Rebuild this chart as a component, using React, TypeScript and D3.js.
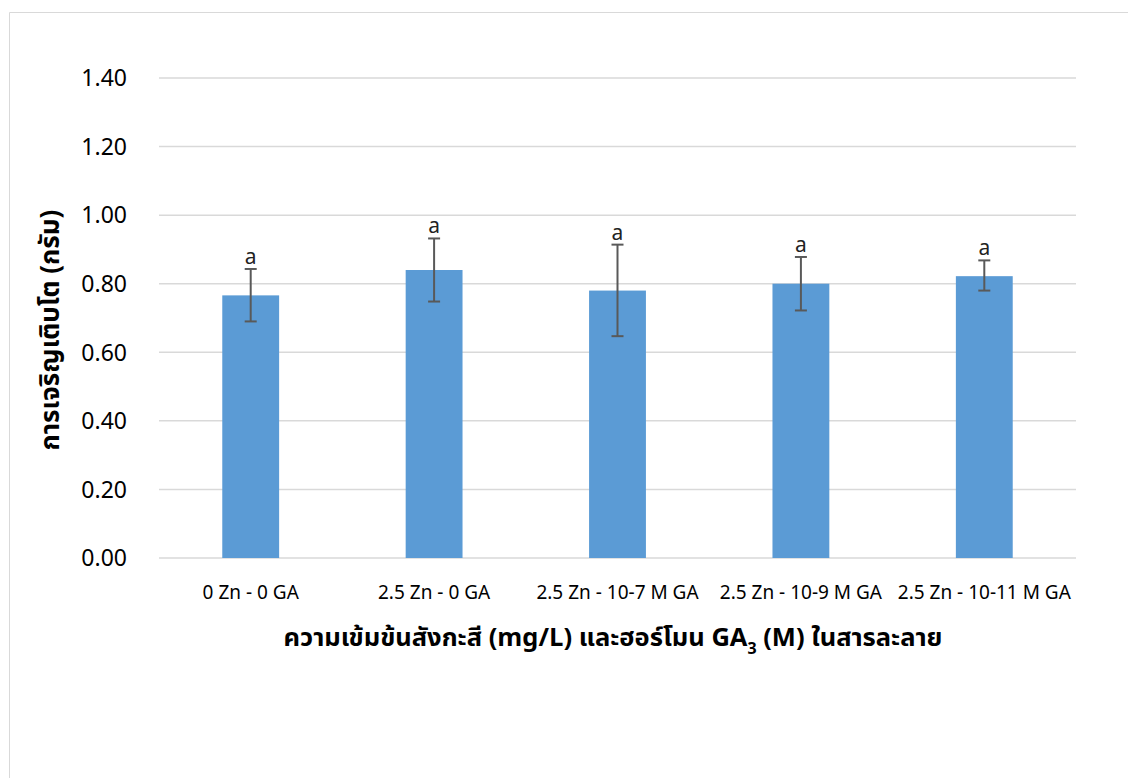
import React from "react";
import * as d3 from "d3";

const categories = ["0 Zn - 0 GA", "2.5 Zn - 0 GA", "2.5 Zn - 10-7 M GA", "2.5 Zn - 10-9 M GA", "2.5 Zn - 10-11 M GA"];
const means = [0.766, 0.840, 0.780, 0.800, 0.822];
const errLow = [0.690, 0.748, 0.647, 0.722, 0.780];
const errHigh = [0.843, 0.932, 0.914, 0.878, 0.868];
const letters = ["a", "a", "a", "a", "a"];
const yTicks = [0, 0.2, 0.4, 0.6, 0.8, 1.0, 1.2, 1.4];

const W = 1128;
const H = 778;
const FONT = "Tahoma, 'Noto Sans Thai', 'Leelawadee UI', 'Open Sans', 'Noto Sans', sans-serif";

export default function App() {
  const left = 159, right = 1076, top = 78, bottom = 558;
  const x = d3.scaleBand<string>().domain(categories).range([left, right]).paddingInner(0.69).paddingOuter(0.345);
  const y = d3.scaleLinear().domain([0, 1.4]).range([bottom, top]);
  const bw = x.bandwidth();
  return (
    <svg width={W} height={H} style={{ position: "absolute", left: 0, top: 0 }} fontFamily={FONT}>
      <rect x={0} y={0} width={W} height={H} fill="#fff" />
      <line x1={9.5} y1={12.5} x2={W} y2={12.5} stroke="#d9d9d9" strokeWidth={1} />
      <line x1={9.5} y1={12.5} x2={9.5} y2={H} stroke="#d9d9d9" strokeWidth={1} />
      {yTicks.map((t) => (
        <g key={t}>
          <line x1={left} x2={right} y1={y(t)} y2={y(t)} stroke="#d9d9d9" strokeWidth={1.5} />
          <text x={127} y={y(t)} dy="0.36em" textAnchor="end" fontSize={23} fill="#000">
            {d3.format(".2f")(t)}
          </text>
        </g>
      ))}
      {categories.map((c, i) => {
        const cx = (x(c) as number) + bw / 2;
        return (
          <g key={c}>
            <rect x={x(c)} y={y(means[i])} width={bw} height={y(0) - y(means[i])} fill="#5B9BD5" />
            <line x1={cx} x2={cx} y1={y(errHigh[i])} y2={y(errLow[i])} stroke="#595959" strokeWidth={2} />
            <line x1={cx - 6} x2={cx + 6} y1={y(errHigh[i])} y2={y(errHigh[i])} stroke="#595959" strokeWidth={2} />
            <line x1={cx - 6} x2={cx + 6} y1={y(errLow[i])} y2={y(errLow[i])} stroke="#595959" strokeWidth={2} />
            <text x={cx} y={y(errHigh[i]) - 5} textAnchor="middle" fontSize={21} fill="#222">
              {letters[i]}
            </text>
            <text x={cx} y={592} dy="0.35em" textAnchor="middle" fontSize={19} fill="#000">
              {c}
            </text>
          </g>
        );
      })}
      <text x={613} y={637} dy="0.35em" textAnchor="middle" fontSize={25.5} fontWeight="bold" fill="#000">
        ความเข้มข้นสังกะสี (mg/L) และฮอร์โมน GA
        <tspan fontSize={16} dy={8}>3</tspan>
        <tspan dy={-8}> (M) ในสารละลาย</tspan>
      </text>
      <text transform={`translate(50,330) rotate(-90)`} textAnchor="middle" dy="0.35em" fontSize={26} fontWeight="bold" fill="#000">
        การเจริญเติบโต (กรัม)
      </text>
    </svg>
  );
}
